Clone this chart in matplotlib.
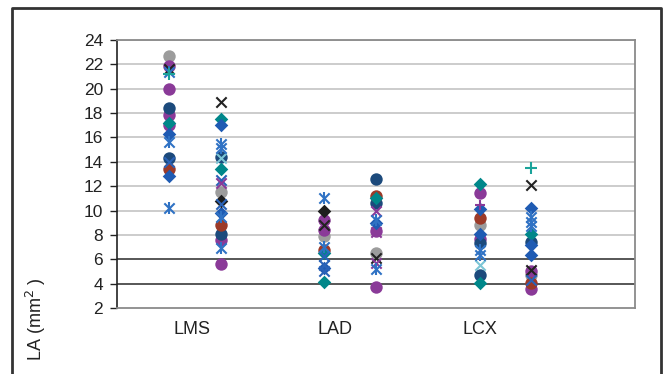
import matplotlib
matplotlib.use("Agg")
import matplotlib.pyplot as plt
from matplotlib.lines import Line2D

plt.rcParams['font.family'] = ['Liberation Sans', 'DejaVu Sans']

# Column positions: two columns per vessel
columns = [1, 2, 4, 5, 7, 8]
vessels = ["LMS", "LAD", "LCX"]
vessel_label_x = [1.45, 4.2, 7.0]
y_ticks = list(range(2, 25, 2))

# Values per marker style, one list per column
gray_circle = [[22.7], [11.55], [7.9], [6.55], [8.8], [4.7]]
purple_circle = [[21.9, 20.0, 17.85, 17.0], [7.6, 5.6], [9.2, 8.4], [8.3, 3.75], [11.4, 7.7], [5.0, 3.6]]
navy_circle = [[18.45, 14.3], [14.4, 8.1], [], [12.6, 10.6], [7.3, 4.7], [7.4]]
red_circle = [[13.4], [8.8], [6.8], [11.2], [9.35], [4.05]]
teal_diamond = [[17.2], [17.5, 13.4], [6.5, 4.1], [11.0], [12.2, 4.05], [8.1]]
blue_diamond = [[16.25, 12.8], [17.0, 9.8], [5.3], [9.0], [10.1, 8.1], [10.2, 7.2, 6.35]]
black_diamond = [[], [10.8], [10.0], [], [], []]
black_x = [[21.6], [18.9], [8.8], [6.1], [], [12.1, 5.1]]
blue_x = [[14.0], [12.5, 10.5], [6.3, 5.5, 5.0], [], [], [4.3]]
purple_x = [[], [12.3], [], [10.0, 8.2, 5.7], [], []]
cyan_x = [[], [14.3], [], [], [5.5], []]
blue_star = [[21.4, 15.6, 10.2], [15.45, 15.1, 9.5, 6.9], [11.05, 7.0], [9.2, 5.2], [6.75, 6.35], [9.5, 9.1, 8.7]]
teal_plus = [[21.2], [], [], [], [], [13.5]]
purple_plus = [[], [], [], [], [10.45], []]

fig = plt.figure(figsize=(6.65, 3.74), dpi=100)
ax = fig.add_axes([117 / 665, 1 - 308 / 374, 518 / 665, 268 / 374])


def draw(groups, marker, color, size, lw=1.5, filled=True):
    for xpos, vals in zip(columns, groups):
        if not vals:
            continue
        xs = [xpos] * len(vals)
        if filled:
            ax.scatter(xs, vals, s=size, marker=marker, color=color,
                       linewidths=0, zorder=3)
        else:
            ax.scatter(xs, vals, s=size, marker=marker, color=color,
                       linewidths=lw, zorder=4)


def draw_star(groups, color, size):
    draw(groups, 'x', color, size, filled=False)
    draw(groups, '|', color, size * 1.2, filled=False)


draw(gray_circle, 'o', '#9c9c9c', 80)
draw(purple_circle, 'o', '#8a3a98', 80)
draw(navy_circle, 'o', '#1c4a7c', 80)
draw(red_circle, 'o', '#9c3a28', 80)
draw(teal_diamond, 'D', '#00878a', 48)
draw(blue_diamond, 'D', '#1f5bb3', 48)
draw(black_diamond, 'D', '#1e1e1e', 48)
draw(black_x, 'x', '#222222', 55, filled=False)
draw(blue_x, 'x', '#2a63b8', 55, filled=False)
draw(purple_x, 'x', '#8a3a98', 55, filled=False)
draw(cyan_x, 'x', '#7cc6d6', 55, filled=False)
draw_star(blue_star, '#2f72c4', 55)
draw(teal_plus, '+', '#1aa39a', 65, filled=False)
draw(purple_plus, '+', '#8a3a98', 55, filled=False)

ax.set_xlim(0, 10)
ax.set_ylim(2, 24)
ax.set_yticks(y_ticks)
ax.set_xticks([])
ax.tick_params(axis='y', direction='out', length=5, width=1, color='#222222',
               labelsize=12.5, labelcolor='#222222', pad=5)

# Horizontal grid; reference band at 4 and 6 drawn darker
for yv in y_ticks[1:]:
    if yv in (4, 6):
        ax.axhline(yv, color='#3a3a3a', lw=1.2, zorder=2)
    else:
        ax.axhline(yv, color='#c4c4c4', lw=1.2, zorder=1)

for side in ('top', 'right', 'bottom'):
    ax.spines[side].set_color('#8a8a8a')
    ax.spines[side].set_linewidth(1.3)
ax.spines['left'].set_color('#222222')
ax.spines['left'].set_linewidth(1.2)

for name, xv in zip(vessels, vessel_label_x):
    ax.text(xv, -0.08, name, transform=ax.get_xaxis_transform(),
            ha='center', va='center', fontsize=13, color='#222222')

fig.text(36 / 665, 1 - 319 / 374, 'LA (mm$^2$ )', rotation=90,
         ha='center', va='center', fontsize=13, color='#222222')

# Outer frame (open at the bottom)
frame_x = [12 / 665, 12 / 665, 661 / 665, 661 / 665]
frame_y = [0, 1 - 8 / 374, 1 - 8 / 374, 0]
fig.add_artist(Line2D(frame_x, frame_y, transform=fig.transFigure,
                      color='#333333', lw=2))

fig.savefig('out.png', dpi=100)
